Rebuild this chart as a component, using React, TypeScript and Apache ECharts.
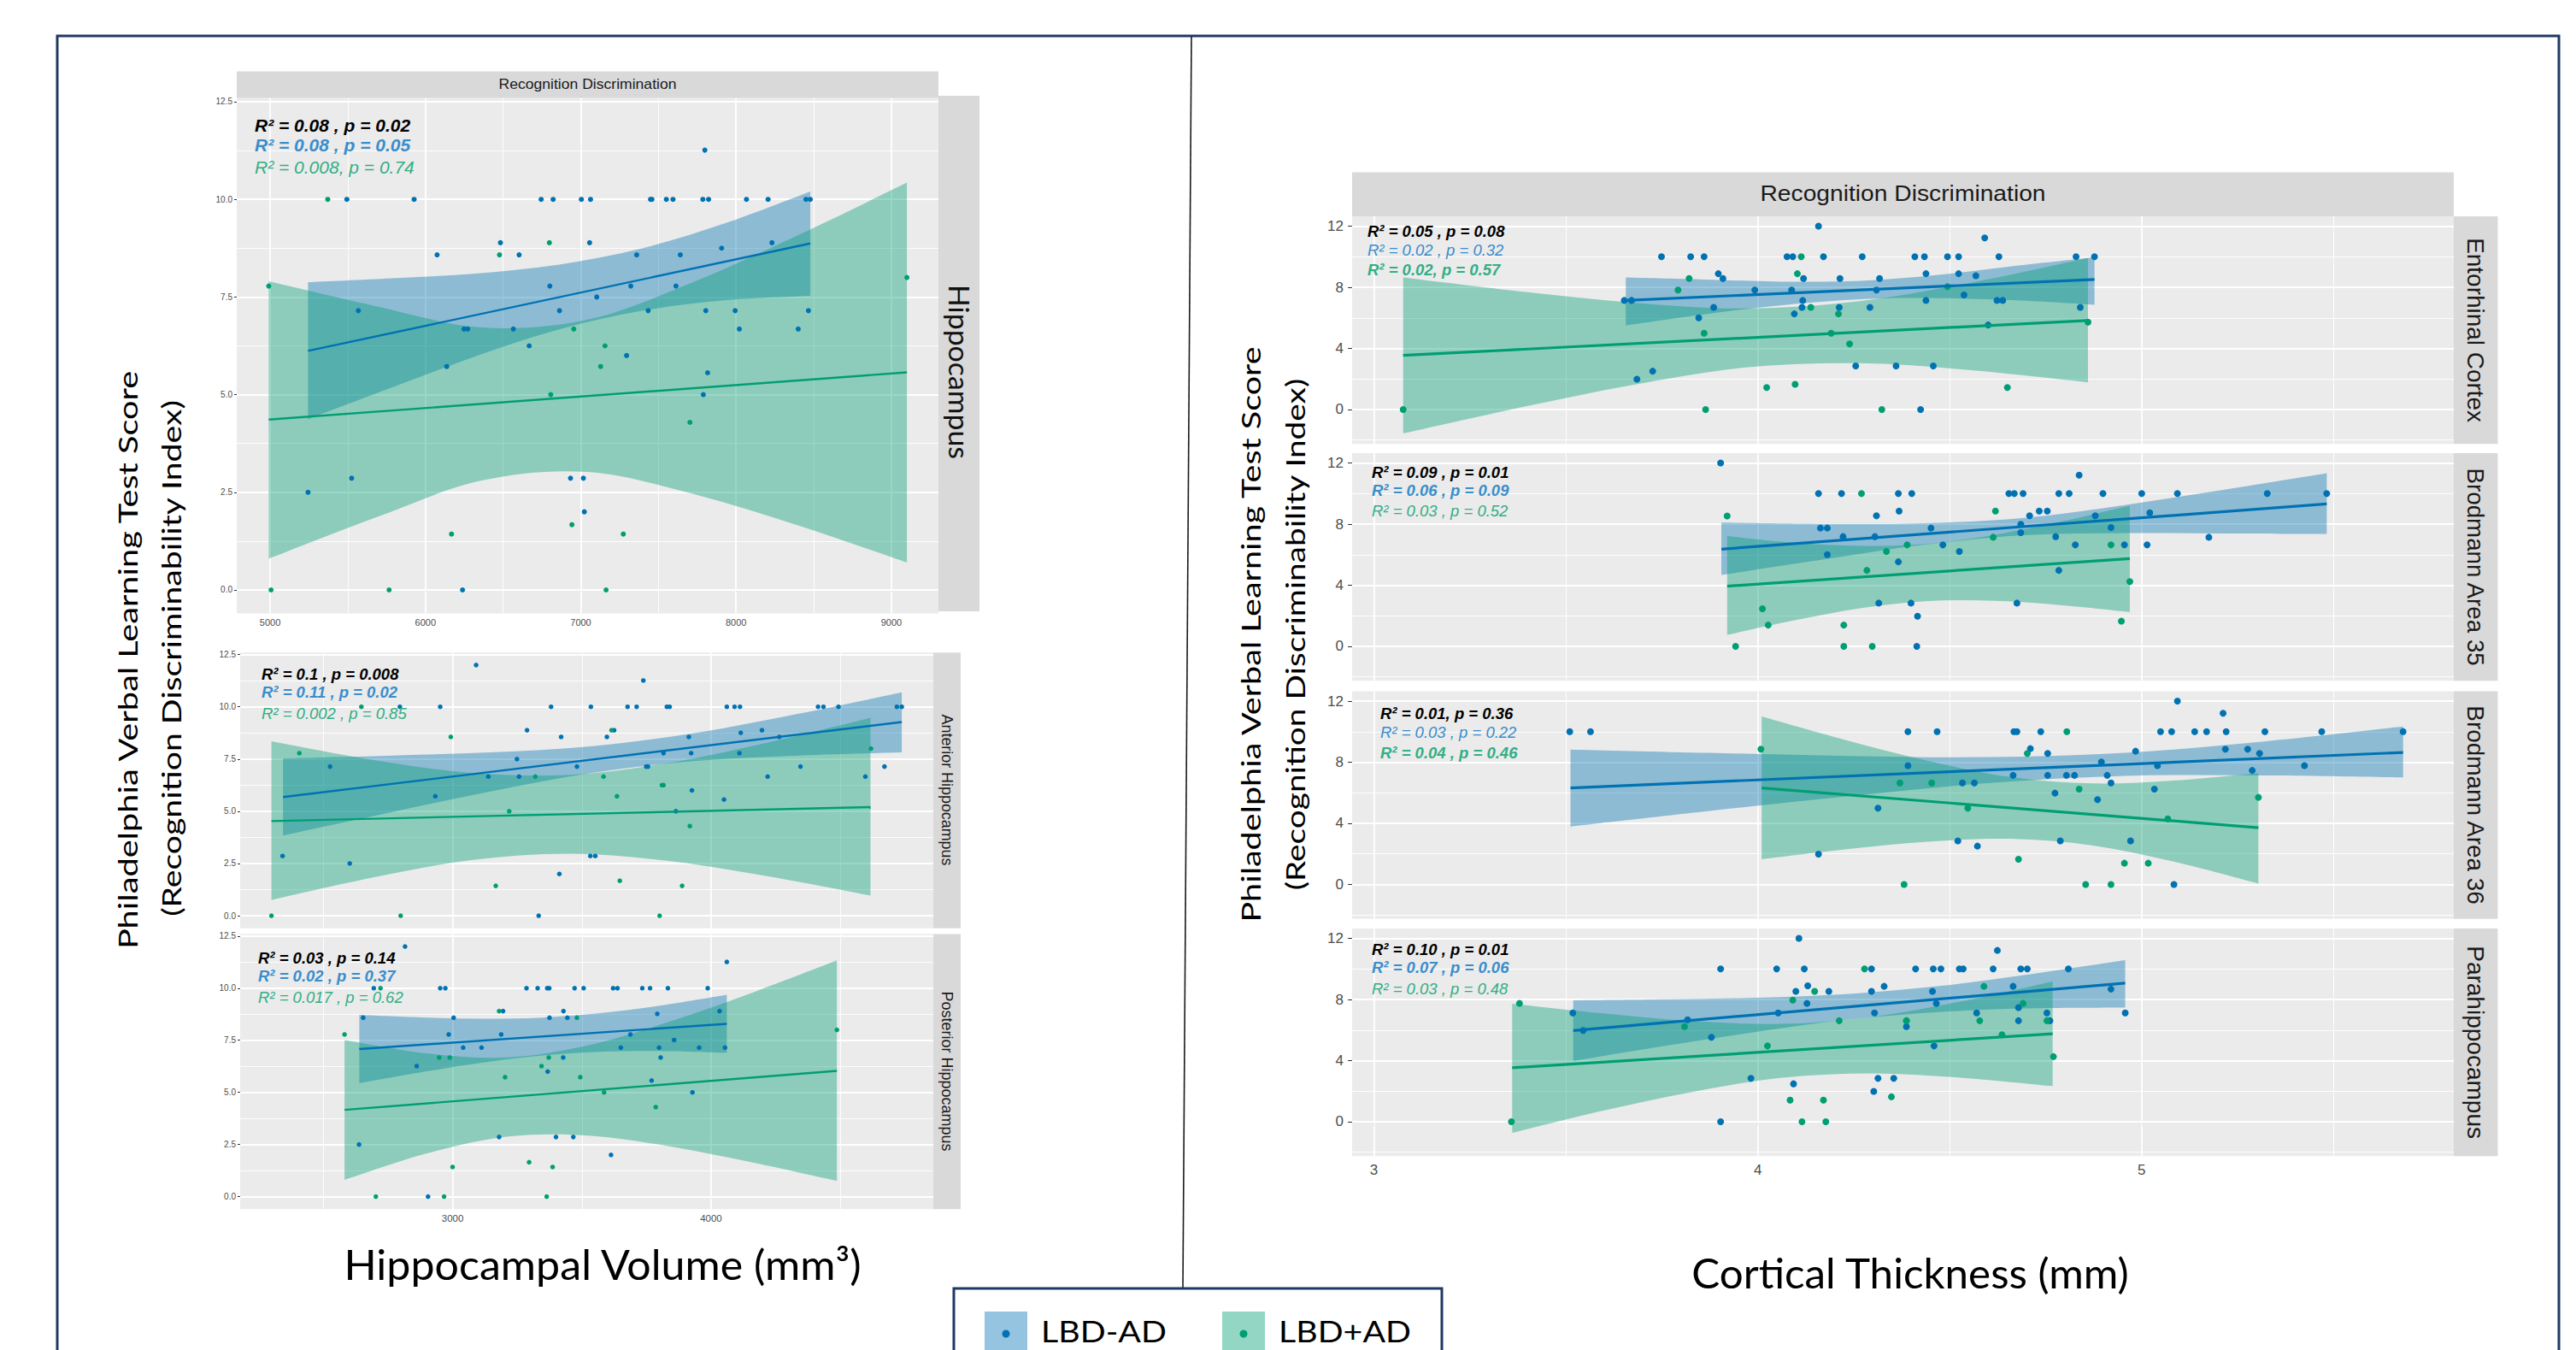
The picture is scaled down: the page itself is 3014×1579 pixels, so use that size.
import React, { useEffect, useRef } from "react";
import * as echarts from "echarts";

// ---------------- tick values ----------------
const hipXTicks = [5000, 6000, 7000, 8000, 9000];
const hipXMinor = [5500, 6500, 7500, 8500];
const volXTicks = [3000, 4000];
const volXMinor = [2500, 3500, 4500];
const leftYTicks = [0, 2.5, 5, 7.5, 10, 12.5];
const leftYMinor = [1.25, 3.75, 6.25, 8.75, 11.25];
const ctXTicks = [3, 4, 5];
const ctXMinor = [3.5, 4.5, 5.5];
const rightYTicks = [0, 4, 8, 12];
const rightYMinor = [-2, 2, 6, 10];

// ---------------- labels ----------------
const stripTitle = "Recognition Discrimination";
const leftFacetLabels = ["Hippocampus", "Anterior Hippocampus", "Posterior Hippocampus"];
const rightFacetLabels = ["Entorhinal Cortex", "Brodmann Area 35", "Brodmann Area 36", "Parahippocampus"];
const yTitleLines = ["Philadelphia Verbal Learning Test Score", "(Recognition Discriminability Index)"];
const leftXTitle = "Hippocampal Volume (mm³)";
const rightXTitle = "Cortical Thickness (mm)";
const groupNames = ["LBD-AD", "LBD+AD"];

// ---------------- statistics text ----------------
const hipStats = ["R² = 0.08 , p = 0.02", "R² = 0.08 , p = 0.05", "R² = 0.008, p = 0.74"];
const antStats = ["R² = 0.1 , p = 0.008", "R² = 0.11 , p = 0.02", "R² = 0.002 , p = 0.85"];
const postStats = ["R² = 0.03 , p = 0.14", "R² = 0.02 , p = 0.37", "R² = 0.017 , p = 0.62"];
const entStats = ["R² = 0.05 , p = 0.08", "R² = 0.02 , p = 0.32", "R² = 0.02, p = 0.57"];
const ba35Stats = ["R² = 0.09 , p = 0.01", "R² = 0.06 , p = 0.09", "R² = 0.03 , p = 0.52"];
const ba36Stats = ["R² = 0.01, p = 0.36", "R² = 0.03 , p = 0.22", "R² = 0.04 , p = 0.46"];
const phStats = ["R² = 0.10 , p = 0.01", "R² = 0.07 , p = 0.06", "R² = 0.03 , p = 0.48"];

// ---------------- Hippocampus ----------------
const hipBlue = [[5494,10],[5927,10],[6745,10],[6822,10],[7004,10],[7063,10],[7449,10],[7458,10],[7551,10],[7594,10],[7786,10],[7823,10],[8067,10],[8206,10],[8450,10],[8478,10],[7799,11.26],[6483,8.89],[7057,8.89],[8231,8.89],[6075,8.58],[6603,8.58],[7360,8.58],[7641,8.58],[7907,8.75],[6801,7.78],[7322,7.78],[7613,7.78],[7103,7.5],[5568,7.15],[6863,7.15],[7434,7.15],[7805,7.15],[7994,7.15],[8466,7.15],[6248,6.68],[6272,6.68],[6566,6.68],[8021,6.68],[8400,6.68],[6668,6.25],[7295,6.0],[6137,5.72],[7817,5.56],[7789,5.0],[5525,2.86],[5244,2.5],[6934,2.86],[7017,2.86],[7023,2.0],[6239,0]];
const hipGreen = [[4991,7.78],[5371,10],[6798,8.89],[6477,8.58],[9100,8.0],[6955,6.68],[7156,6.25],[7128,5.72],[6807,5.0],[7703,4.29],[6168,1.43],[6943,1.67],[7274,1.43],[5006,0],[5766,0],[7163,0]];
const hipBlueBand = [[5244,4.37,7.88],[5783,5.18,7.98],[6322,5.98,8.1],[6861,6.67,8.33],[7400,7.15,8.75],[7939,7.42,9.4],[8478,7.53,10.2]];
const hipGreenBand = [[4991,0.8,7.9],[5676,1.85,7.27],[6361,2.8,6.72],[7045,3.02,6.92],[7730,2.45,7.89],[8415,1.63,9.11],[9100,0.7,10.43]];
const hipBlueLine = [[5244,6.12],[8478,8.87]];
const hipGreenLine = [[4991,4.36],[9100,5.57]];

// ---------------- Anterior Hippocampus ----------------
const antBlue = [[2342,2.86],[2602,2.5],[2526,7.14],[2796,10],[2952,10],[2933,5.72],[3091,12],[3138,6.66],[3249,7.5],[3257,6.66],[3288,8.88],[3333,0],[3381,10],[3413,2.0],[3420,8.56],[3481,7.14],[3535,10],[3533,2.86],[3552,2.86],[3597,8.56],[3625,8.88],[3677,10],[3712,10],[3738,11.26],[3749,7.14],[3756,7.14],[3816,7.78],[3829,10],[3840,10],[3864,5.0],[3914,8.56],[3923,7.78],[3926,6.0],[4050,5.56],[4061,10],[4091,10],[4112,10],[4115,8.76],[4110,7.78],[4197,8.88],[4219,6.66],[4264,8.56],[4346,7.14],[4414,10],[4435,10],[4493,10],[4597,6.66],[4671,7.14],[4719,10],[4738,10]];
const antGreen = [[2299,0],[2407,7.78],[2647,10],[2799,0],[2993,8.56],[3167,1.43],[3219,5.0],[3320,6.66],[3584,6.66],[3615,8.88],[3636,5.72],[3647,1.67],[3801,0],[3810,6.25],[3816,6.25],[3888,1.43],[3918,4.29],[4619,8.0]];
const antBlueBand = [[2344,3.84,7.53],[2743,4.9,7.66],[3142,5.94,7.82],[3541,6.84,8.12],[3940,7.41,8.75],[4339,7.67,9.67],[4738,7.82,10.69]];
const antGreenBand = [[2299,0.75,8.35],[2685,1.81,7.47],[3071,2.66,6.84],[3458,2.97,6.75],[3844,2.61,7.33],[4231,1.86,8.32],[4617,0.96,9.47]];
const antBlueLine = [[2344,5.68],[4738,9.27]];
const antGreenLine = [[2299,4.53],[4617,5.2]];

// ---------------- Posterior Hippocampus ----------------
const postBlue = [[2816,12],[2695,10],[2952,10],[2972,10],[2654,8.58],[2638,2.5],[2861,6.26],[2985,7.78],[3004,8.58],[3041,7.15],[3112,7.15],[3180,2.86],[3188,7.78],[3195,8.9],[3286,10],[3329,10],[3366,10],[3374,10],[3368,6.0],[3375,8.58],[3400,2.86],[3429,8.9],[3444,8.58],[3428,6.67],[3467,2.86],[3472,10],[3507,10],[3613,2.0],[3621,10],[3638,10],[3688,7.78],[3651,7.15],[3734,10],[3764,10],[3770,5.57],[3792,8.77],[3799,7.15],[3805,6.67],[3833,10],[3857,7.51],[3928,5.0],[3954,7.15],[3987,10],[4033,8.9],[4054,7.15],[4061,11.26],[2905,0]];
const postGreen = [[2582,7.78],[2703,0],[2721,10],[2948,6.67],[2967,0],[2989,6.67],[3000,1.42],[3180,8.9],[3203,5.73],[3296,1.65],[3344,6.26],[3364,0],[3372,6.67],[3387,1.42],[3481,8.58],[3494,5.73],[3586,5.0],[3786,4.29],[4487,8.0]];
const postBlueBand = [[2639,5.44,8.72],[2876,5.96,8.6],[3113,6.42,8.54],[3350,6.77,8.59],[3587,6.96,8.82],[3824,6.98,9.2],[4061,6.9,9.68]];
const postGreenBand = [[2582,0.8,7.51],[2900,2.07,6.87],[3217,2.88,6.68],[3535,2.92,7.28],[3852,2.38,8.44],[4170,1.61,9.83],[4487,0.75,11.33]];
const postBlueLine = [[2639,7.08],[4061,8.29]];
const postGreenLine = [[2582,4.16],[4487,6.03]];

// ---------------- Entorhinal Cortex ----------------
const entBlue = [[4.158,12],[3.749,10],[3.825,10],[3.86,10],[4.076,10],[4.091,10],[4.171,10],[4.272,10],[4.409,10],[4.434,10],[4.494,10],[4.523,10],[4.628,10],[4.829,10],[4.877,10],[4.591,11.23],[3.897,8.89],[3.909,8.57],[4.119,8.57],[4.214,8.57],[4.317,8.57],[4.438,8.89],[4.523,8.89],[4.568,8.76],[3.992,7.82],[4.088,7.82],[4.309,7.82],[3.652,7.14],[3.671,7.14],[4.117,7.14],[4.438,7.14],[4.537,7.5],[4.623,7.14],[4.638,7.14],[3.885,6.69],[4.115,6.69],[4.212,6.69],[4.292,6.69],[4.84,6.69],[4.095,6.26],[3.846,6.0],[4.6,5.53],[3.685,1.99],[3.726,2.51],[4.255,2.85],[4.36,2.85],[4.457,2.85],[4.424,0]];
const entGreen = [[3.076,0],[3.821,8.57],[3.792,7.82],[4.103,8.89],[4.113,10],[4.138,6.69],[4.21,6.26],[3.86,4.99],[4.191,4.99],[4.239,4.29],[4.494,8.04],[4.023,1.44],[4.097,1.65],[3.864,0],[4.323,0],[4.65,1.44],[4.86,5.72]];
const entBlueBand = [[3.656,5.51,8.64],[3.86,6.23,8.51],[4.063,6.83,8.37],[4.267,7.22,8.42],[4.47,7.29,8.81],[4.674,7.15,9.41],[4.877,6.86,9.96]];
const entGreenBand = [[3.076,-1.56,8.64],[3.373,0.09,7.75],[3.671,1.6,7.0],[3.968,2.75,6.61],[4.265,3.03,7.09],[4.563,2.56,8.34],[4.86,1.78,9.92]];
const entBlueLine = [[3.656,7.14],[4.877,8.51]];
const entGreenLine = [[3.076,3.54],[4.86,5.83]];

// ---------------- Brodmann Area 35 ----------------
const ba35Blue = [[3.903,12],[4.158,10],[4.218,10],[4.366,10],[4.401,10],[4.654,10],[4.668,10],[4.691,10],[4.784,10],[4.811,10],[4.899,10],[5.0,10],[5.093,10],[5.327,10],[5.482,10],[4.837,11.2],[4.368,8.85],[4.309,8.55],[4.163,7.74],[4.181,7.74],[4.222,7.18],[4.305,7.18],[4.451,7.74],[4.482,6.64],[4.525,6.21],[4.181,6.0],[4.366,5.53],[4.708,8.55],[4.733,8.85],[4.754,8.85],[4.879,8.55],[4.92,7.78],[4.685,7.99],[4.685,7.44],[4.776,7.18],[4.827,6.64],[4.955,6.64],[5.014,6.64],[5.021,8.74],[5.175,7.14],[4.784,4.97],[4.315,2.83],[4.399,2.83],[4.675,2.83],[4.416,1.97],[4.414,0]];
const ba35Green = [[3.92,8.53],[4.27,10],[4.619,8.85],[4.012,2.46],[4.027,1.39],[3.942,0],[4.224,1.39],[4.224,0],[4.298,0],[4.284,4.97],[4.335,6.21],[4.389,6.64],[4.613,7.14],[4.92,6.64],[4.969,4.24],[4.947,1.65]];
const ba35BlueBand = [[3.905,4.67,8.1],[4.168,5.68,8.02],[4.431,6.64,8.06],[4.694,7.27,8.41],[4.956,7.41,9.25],[5.219,7.39,10.27],[5.482,7.35,11.33]];
const ba35GreenBand = [[3.92,0.75,7.22],[4.095,1.7,6.78],[4.27,2.51,6.57],[4.445,2.96,6.72],[4.619,2.98,7.3],[4.794,2.69,8.19],[4.969,2.25,9.21]];
const ba35BlueLine = [[3.905,6.36],[5.482,9.32]];
const ba35GreenLine = [[3.92,3.94],[4.969,5.74]];

// ---------------- Brodmann Area 36 ----------------
const ba36Blue = [[3.51,10],[3.564,10],[4.391,10],[4.467,10],[4.667,10],[4.675,10],[4.737,10],[5.049,10],[5.078,10],[5.138,10],[5.169,10],[5.22,10],[5.321,10],[5.469,10],[5.681,10],[5.093,12],[5.212,11.2],[4.71,8.89],[4.755,8.57],[4.984,8.72],[5.218,8.85],[5.276,8.85],[5.307,8.57],[4.391,7.78],[4.895,8.01],[5.041,7.78],[5.424,7.78],[5.288,7.46],[4.665,7.14],[4.755,7.14],[4.804,7.14],[4.825,7.14],[4.91,7.14],[4.92,6.64],[4.533,6.64],[4.564,6.64],[4.774,5.98],[4.885,5.55],[5.033,6.24],[4.313,4.99],[4.521,2.85],[4.572,2.51],[4.788,2.85],[4.971,2.85],[4.158,1.99],[5.084,0]];
const ba36Green = [[4.008,8.85],[4.805,10],[4.702,8.57],[4.37,6.64],[4.453,6.64],[4.837,6.24],[5.304,5.7],[4.547,4.99],[5.068,4.29],[4.679,1.65],[4.955,1.39],[5.017,1.39],[4.381,0],[4.854,0],[4.92,0]];
const ba36BlueBand = [[3.512,3.79,8.83],[3.874,4.81,8.61],[4.235,5.77,8.41],[4.597,6.63,8.33],[4.958,7.11,8.61],[5.32,7.14,9.36],[5.681,7.01,10.33]];
const ba36GreenBand = [[4.01,1.65,10.99],[4.226,2.29,9.47],[4.441,2.8,8.1],[4.657,2.99,7.03],[4.873,2.55,6.61],[5.088,1.47,6.81],[5.304,0.06,7.29]];
const ba36BlueLine = [[3.512,6.32],[5.681,8.64]];
const ba36GreenLine = [[4.01,6.32],[5.304,3.71]];

// ---------------- Parahippocampus ----------------
const phBlue = [[4.107,12],[4.624,11.21],[3.903,10],[4.049,10],[4.121,10],[4.296,10],[4.411,10],[4.457,10],[4.477,10],[4.525,10],[4.535,10],[4.613,10],[4.685,10],[4.702,10],[4.809,10],[4.13,8.9],[4.099,8.53],[4.185,8.53],[4.296,8.53],[4.329,8.86],[4.455,8.53],[4.665,8.86],[4.92,8.68],[4.128,7.74],[4.465,7.74],[4.053,7.12],[4.304,7.12],[4.57,7.12],[4.679,7.47],[4.753,7.12],[4.957,7.12],[3.518,7.12],[3.545,5.97],[3.817,6.67],[3.879,5.52],[4.387,6.61],[4.387,6.22],[4.679,6.61],[4.761,6.61],[4.459,4.96],[3.982,2.84],[4.313,2.84],[4.354,2.84],[4.093,2.48],[4.302,1.99],[3.903,0]];
const phGreen = [[3.358,0],[3.379,7.74],[3.809,6.22],[4.025,4.96],[4.084,1.41],[4.171,1.41],[4.115,0],[4.177,0],[4.091,7.96],[4.148,8.53],[4.212,6.61],[4.278,10],[4.348,1.63],[4.387,6.61],[4.578,6.61],[4.589,8.86],[4.636,5.69],[4.691,7.74],[4.753,6.61],[4.77,4.26]];
const phBlueBand = [[3.519,3.98,7.94],[3.759,4.97,8.01],[3.998,5.89,8.11],[4.238,6.68,8.36],[4.478,7.19,8.89],[4.717,7.42,9.68],[4.957,7.47,10.57]];
const phGreenBand = [[3.36,-0.73,7.72],[3.595,0.71,7.09],[3.829,1.95,6.59],[4.064,2.88,6.4],[4.299,3.16,6.86],[4.533,2.87,7.89],[4.768,2.33,9.18]];
const phBlueLine = [[3.519,5.97],[4.957,9.07]];
const phGreenLine = [[3.36,3.53],[4.768,5.75]];

// ---------------- styling ----------------
const BLUE = "#0072B2";
const GREEN = "#009E73";
const BLUE_FILL = "rgba(0,114,178,0.4)";
const GREEN_FILL = "rgba(0,158,115,0.4)";
const GG = '"Liberation Sans", Arial, sans-serif';
const PPT = 'Lato, "Open Sans", sans-serif';
const STAT_COLORS = ["#000000", "#3A8DCB", "#33AE85"];

function measure(text: string, font: string): number {
  const c = document.createElement("canvas").getContext("2d");
  if (!c) return 0;
  c.font = font;
  return c.measureText(text).width;
}

function fitText(text: string, x: number, y: number, family: string, size: number, targetW: number, rotation: number, color: string, align = "center", weight = "normal") {
  const w = measure(text, `${weight} ${size}px ${family}`);
  const s = targetW > 0 && w > 0 ? targetW / w : 1;
  return {
    type: "text", x, y, rotation, scaleX: s, z: 20,
    style: { text, fontFamily: family, fontSize: size, fontWeight: weight, fill: color, align, verticalAlign: "middle" },
  };
}

// smooth path through pixel points (Catmull-Rom as cubic Bezier)
function splinePath(p: number[][]): string {
  let s = "";
  for (let k = 0; k < p.length - 1; k++) {
    const p0 = p[k - 1] || p[k];
    const p1 = p[k];
    const p2 = p[k + 1];
    const p3 = p[k + 2] || p[k + 1];
    const c1x = p1[0] + (p2[0] - p0[0]) / 6, c1y = p1[1] + (p2[1] - p0[1]) / 6;
    const c2x = p2[0] - (p3[0] - p1[0]) / 6, c2y = p2[1] - (p3[1] - p1[1]) / 6;
    s += ` C${c1x} ${c1y} ${c2x} ${c2y} ${p2[0]} ${p2[1]}`;
  }
  return s;
}

function bandSeries(i: number, band: number[][], fill: string) {
  return {
    type: "custom", xAxisIndex: i, yAxisIndex: i, data: band, encode: { x: 0, y: [1, 2] }, silent: true, z: 2,
    renderItem: (params: any, api: any) => {
      if (params.dataIndex !== 0) return { type: "group", children: [] };
      const up = band.map((r) => api.coord([r[0], r[2]]));
      const lo = band.map((r) => api.coord([r[0], r[1]])).reverse();
      const d = `M${up[0][0]} ${up[0][1]}` + splinePath(up) + ` L${lo[0][0]} ${lo[0][1]}` + splinePath(lo) + " Z";
      const cs = params.coordSys;
      return {
        type: "group",
        clipPath: { type: "rect", shape: { x: cs.x, y: cs.y, width: cs.width, height: cs.height } },
        children: [{ type: "path", shape: { pathData: d }, style: { fill, stroke: "none" } }],
      };
    },
  };
}

function buildOption() {
  const L = { xMin: 2178, xMax: 4860 };
  const R = { xMin: 2.943, xMax: 5.813, yMin: -2.25, yMax: 12.65 };
  const leftCommon = { yMin: -0.6, yMax: 12.6, dec: 1, yFont: 10, xFont: 11.5, tick: 3, xMargin: 5, yMargin: 5, sym: 6, lw: 2.4, yt: leftYTicks, ym: leftYMinor };
  const rightCommon = { ...R, left: 1582, width: 1289, height: 266.3, dec: 0, yFont: 17, xFont: 17, tick: 5, xMargin: 8, yMargin: 10, sym: 8, lw: 3.2, xt: ctXTicks, xm: ctXMinor, yt: rightYTicks, ym: rightYMinor };

  const panels: any[] = [
    { ...leftCommon, left: 277, top: 114.4, width: 821, height: 603, xMin: 4785, xMax: 9303, showX: true, xFont: 11, xt: hipXTicks, xm: hipXMinor,
      blue: hipBlue, green: hipGreen, blueBand: hipBlueBand, greenBand: hipGreenBand, blueLine: hipBlueLine, greenLine: hipGreenLine,
      stats: hipStats, sx: 298, sy: [154, 177, 203], sfs: 21, sw: ["bold", "bold", "normal"] },
    { ...leftCommon, ...L, left: 281, top: 763.2, width: 811, height: 322.5, showX: false, xt: volXTicks, xm: volXMinor, sym: 5.5,
      blue: antBlue, green: antGreen, blueBand: antBlueBand, greenBand: antGreenBand, blueLine: antBlueLine, greenLine: antGreenLine,
      stats: antStats, sx: 306, sy: [795, 816, 841], sfs: 18.5, sw: ["bold", "bold", "normal"] },
    { ...leftCommon, ...L, left: 281, top: 1092.4, width: 811, height: 321.8, showX: true, xt: volXTicks, xm: volXMinor, sym: 5.5,
      blue: postBlue, green: postGreen, blueBand: postBlueBand, greenBand: postGreenBand, blueLine: postBlueLine, greenLine: postGreenLine,
      stats: postStats, sx: 302, sy: [1127, 1148, 1173], sfs: 18.5, sw: ["bold", "bold", "normal"] },
    { ...rightCommon, top: 252.9, showX: false,
      blue: entBlue, green: entGreen, blueBand: entBlueBand, greenBand: entGreenBand, blueLine: entBlueLine, greenLine: entGreenLine,
      stats: entStats, sx: 1600, sy: [277, 299, 322], sfs: 18.5, sw: ["bold", "normal", "bold"] },
    { ...rightCommon, top: 529.9, showX: false,
      blue: ba35Blue, green: ba35Green, blueBand: ba35BlueBand, greenBand: ba35GreenBand, blueLine: ba35BlueLine, greenLine: ba35GreenLine,
      stats: ba35Stats, sx: 1605, sy: [559, 580, 604], sfs: 18.5, sw: ["bold", "bold", "normal"] },
    { ...rightCommon, top: 808.4, showX: false,
      blue: ba36Blue, green: ba36Green, blueBand: ba36BlueBand, greenBand: ba36GreenBand, blueLine: ba36BlueLine, greenLine: ba36GreenLine,
      stats: ba36Stats, sx: 1615, sy: [841, 863, 887], sfs: 18.5, sw: ["bold", "normal", "bold"] },
    { ...rightCommon, top: 1085.9, showX: true,
      blue: phBlue, green: phGreen, blueBand: phBlueBand, greenBand: phGreenBand, blueLine: phBlueLine, greenLine: phGreenLine,
      stats: phStats, sx: 1605, sy: [1117, 1138, 1163], sfs: 18.5, sw: ["bold", "bold", "normal"] },
  ];

  const grid: any[] = [];
  const xAxis: any[] = [];
  const yAxis: any[] = [];
  const series: any[] = [];
  const elements: any[] = [];

  const major = { color: "#FFFFFF", width: 1.8, type: "solid" };
  const minor = { color: "#FFFFFF", width: 0.9, type: "solid" };

  panels.forEach((p, i) => {
    grid.push({ left: p.left, top: p.top, width: p.width, height: p.height, show: true, backgroundColor: "#EBEBEB", borderWidth: 0, containLabel: false });
    xAxis.push({
      type: "value", gridIndex: i, min: p.xMin, max: p.xMax,
      splitLine: { show: false }, axisLine: { show: false },
      axisTick: { show: p.showX, customValues: p.xt, length: p.tick, lineStyle: { color: "#333333", width: 1 } },
      axisLabel: { show: p.showX, customValues: p.xt, fontSize: p.xFont, color: "#4D4D4D", fontFamily: GG, margin: p.xMargin, formatter: (v: number) => String(v) },
    });
    yAxis.push({
      type: "value", gridIndex: i, min: p.yMin, max: p.yMax,
      splitLine: { show: false }, axisLine: { show: false },
      axisTick: { show: true, customValues: p.yt, length: p.tick, lineStyle: { color: "#333333", width: 1 } },
      axisLabel: { show: true, customValues: p.yt, fontSize: p.yFont, color: "#4D4D4D", fontFamily: GG, margin: p.yMargin, formatter: (v: number) => v.toFixed(p.dec) },
    });

    const gridLines = {
      z: 1, silent: true, symbol: ["none", "none"], label: { show: false }, lineStyle: { type: "solid" },
      emphasis: { disabled: true },
      data: [
        ...p.xm.map((v: number) => ({ xAxis: v, lineStyle: minor })),
        ...p.ym.map((v: number) => ({ yAxis: v, lineStyle: minor })),
        ...p.xt.map((v: number) => ({ xAxis: v, lineStyle: major })),
        ...p.yt.map((v: number) => ({ yAxis: v, lineStyle: major })),
      ],
    };

    series.push({ type: "scatter", xAxisIndex: i, yAxisIndex: i, data: p.blue, symbolSize: p.sym, itemStyle: { color: BLUE, opacity: 1 }, silent: true, z: 2, markLine: gridLines });
    series.push({ type: "scatter", xAxisIndex: i, yAxisIndex: i, data: p.green, symbolSize: p.sym, itemStyle: { color: GREEN, opacity: 1 }, silent: true, z: 2 });
    series.push(bandSeries(i, p.blueBand, BLUE_FILL));
    series.push(bandSeries(i, p.greenBand, GREEN_FILL));
    series.push({ type: "line", xAxisIndex: i, yAxisIndex: i, data: p.blueLine, symbol: "none", showSymbol: false, lineStyle: { color: BLUE, width: p.lw }, silent: true, z: 3 });
    series.push({ type: "line", xAxisIndex: i, yAxisIndex: i, data: p.greenLine, symbol: "none", showSymbol: false, lineStyle: { color: GREEN, width: p.lw }, silent: true, z: 3 });

    p.stats.forEach((t: string, k: number) => {
      elements.push({
        type: "text", x: p.sx, y: p.sy[k] - 0.35 * p.sfs, z: 20,
        style: { text: t, fontFamily: GG, fontSize: p.sfs, fontStyle: "italic", fontWeight: p.sw[k], fill: STAT_COLORS[k], align: "left", verticalAlign: "middle" },
      });
    });
  });

  // ---------- frame, divider, legend box ----------
  elements.unshift({ type: "rect", shape: { x: 67, y: 42, width: 2927, height: 1600 }, style: { fill: "none", stroke: "#1F3864", lineWidth: 3 }, z: 5 });
  elements.push({ type: "line", shape: { x1: 1394, y1: 43, x2: 1384, y2: 1507 }, style: { stroke: "#1A1A1A", lineWidth: 1.6 }, z: 5 });
  elements.push({ type: "rect", shape: { x: 1116, y: 1507, width: 571, height: 120 }, style: { fill: "#FFFFFF", stroke: "#1F3864", lineWidth: 3 }, z: 6 });
  elements.push({ type: "rect", shape: { x: 1152, y: 1534, width: 50, height: 60 }, style: { fill: "rgba(0,114,178,0.42)" }, z: 7 });
  elements.push({ type: "rect", shape: { x: 1430, y: 1534, width: 50, height: 60 }, style: { fill: "rgba(0,158,115,0.42)" }, z: 7 });
  elements.push({ type: "circle", shape: { cx: 1177, cy: 1560, r: 4.5 }, style: { fill: BLUE }, z: 8 });
  elements.push({ type: "circle", shape: { cx: 1455, cy: 1560, r: 4.5 }, style: { fill: GREEN }, z: 8 });
  elements.push(fitText(groupNames[0], 1218, 1557, PPT, 34, 147, 0, "#000000", "left"));
  elements.push(fitText(groupNames[1], 1496, 1557, PPT, 34, 155, 0, "#000000", "left"));

  // ---------- strips ----------
  const STRIP = "#D9D9D9";
  elements.push({ type: "rect", shape: { x: 277, y: 83.5, width: 821, height: 31 }, style: { fill: STRIP }, z: 4 });
  elements.push(fitText(stripTitle, 687.5, 99, GG, 16, 208, 0, "#1A1A1A"));
  elements.push({ type: "rect", shape: { x: 1098, y: 112, width: 48, height: 603 }, style: { fill: STRIP }, z: 4 });
  elements.push(fitText(leftFacetLabels[0], 1122, 435, PPT, 32, 204, -Math.PI / 2, "#111111"));
  elements.push({ type: "rect", shape: { x: 1092, y: 763.2, width: 32, height: 322.5 }, style: { fill: STRIP }, z: 4 });
  elements.push(fitText(leftFacetLabels[1], 1108, 924, GG, 17.5, 177, -Math.PI / 2, "#1A1A1A"));
  elements.push({ type: "rect", shape: { x: 1092, y: 1092.4, width: 32, height: 321.8 }, style: { fill: STRIP }, z: 4 });
  elements.push(fitText(leftFacetLabels[2], 1108, 1253, GG, 17.5, 187, -Math.PI / 2, "#1A1A1A"));

  elements.push({ type: "rect", shape: { x: 1582, y: 201.5, width: 1289, height: 51.4 }, style: { fill: STRIP }, z: 4 });
  elements.push(fitText(stripTitle, 2226.5, 227, GG, 25, 334, 0, "#1A1A1A"));
  const rightTops = [252.9, 529.9, 808.4, 1085.9];
  const rightLens = [216, 233, 234, 226];
  rightTops.forEach((t, k) => {
    elements.push({ type: "rect", shape: { x: 2871, y: t, width: 51.5, height: 266.3 }, style: { fill: STRIP }, z: 4 });
    elements.push(fitText(rightFacetLabels[k], 2896.5, t + 133.2, GG, 28, rightLens[k], -Math.PI / 2, "#1A1A1A"));
  });

  // ---------- axis titles ----------
  elements.push(fitText(yTitleLines[0], 149, 772, PPT, 30, 679, Math.PI / 2, "#000000"));
  elements.push(fitText(yTitleLines[1], 200, 770, PPT, 30, 605, Math.PI / 2, "#000000"));
  elements.push(fitText(yTitleLines[0], 1463, 742, PPT, 30, 676, Math.PI / 2, "#000000"));
  elements.push(fitText(yTitleLines[1], 1515, 742, PPT, 30, 600, Math.PI / 2, "#000000"));
  elements.push(fitText(leftXTitle, 705, 1478, PPT, 48, 607, 0, "#000000"));
  elements.push(fitText(rightXTitle, 2235, 1488, PPT, 48, 513, 0, "#000000"));

  return {
    animation: false,
    backgroundColor: "#FFFFFF",
    grid, xAxis, yAxis, series,
    graphic: { elements },
  };
}

export default function App() {
  const ref = useRef<HTMLDivElement>(null);
  useEffect(() => {
    if (!ref.current) return;
    const chart = echarts.init(ref.current, undefined, { renderer: "svg" });
    chart.setOption(buildOption() as any);
    return () => chart.dispose();
  }, []);
  return <div ref={ref} style={{ position: "absolute", left: 0, top: 0, width: 3014, height: 1579, background: "#FFFFFF" }} />;
}
